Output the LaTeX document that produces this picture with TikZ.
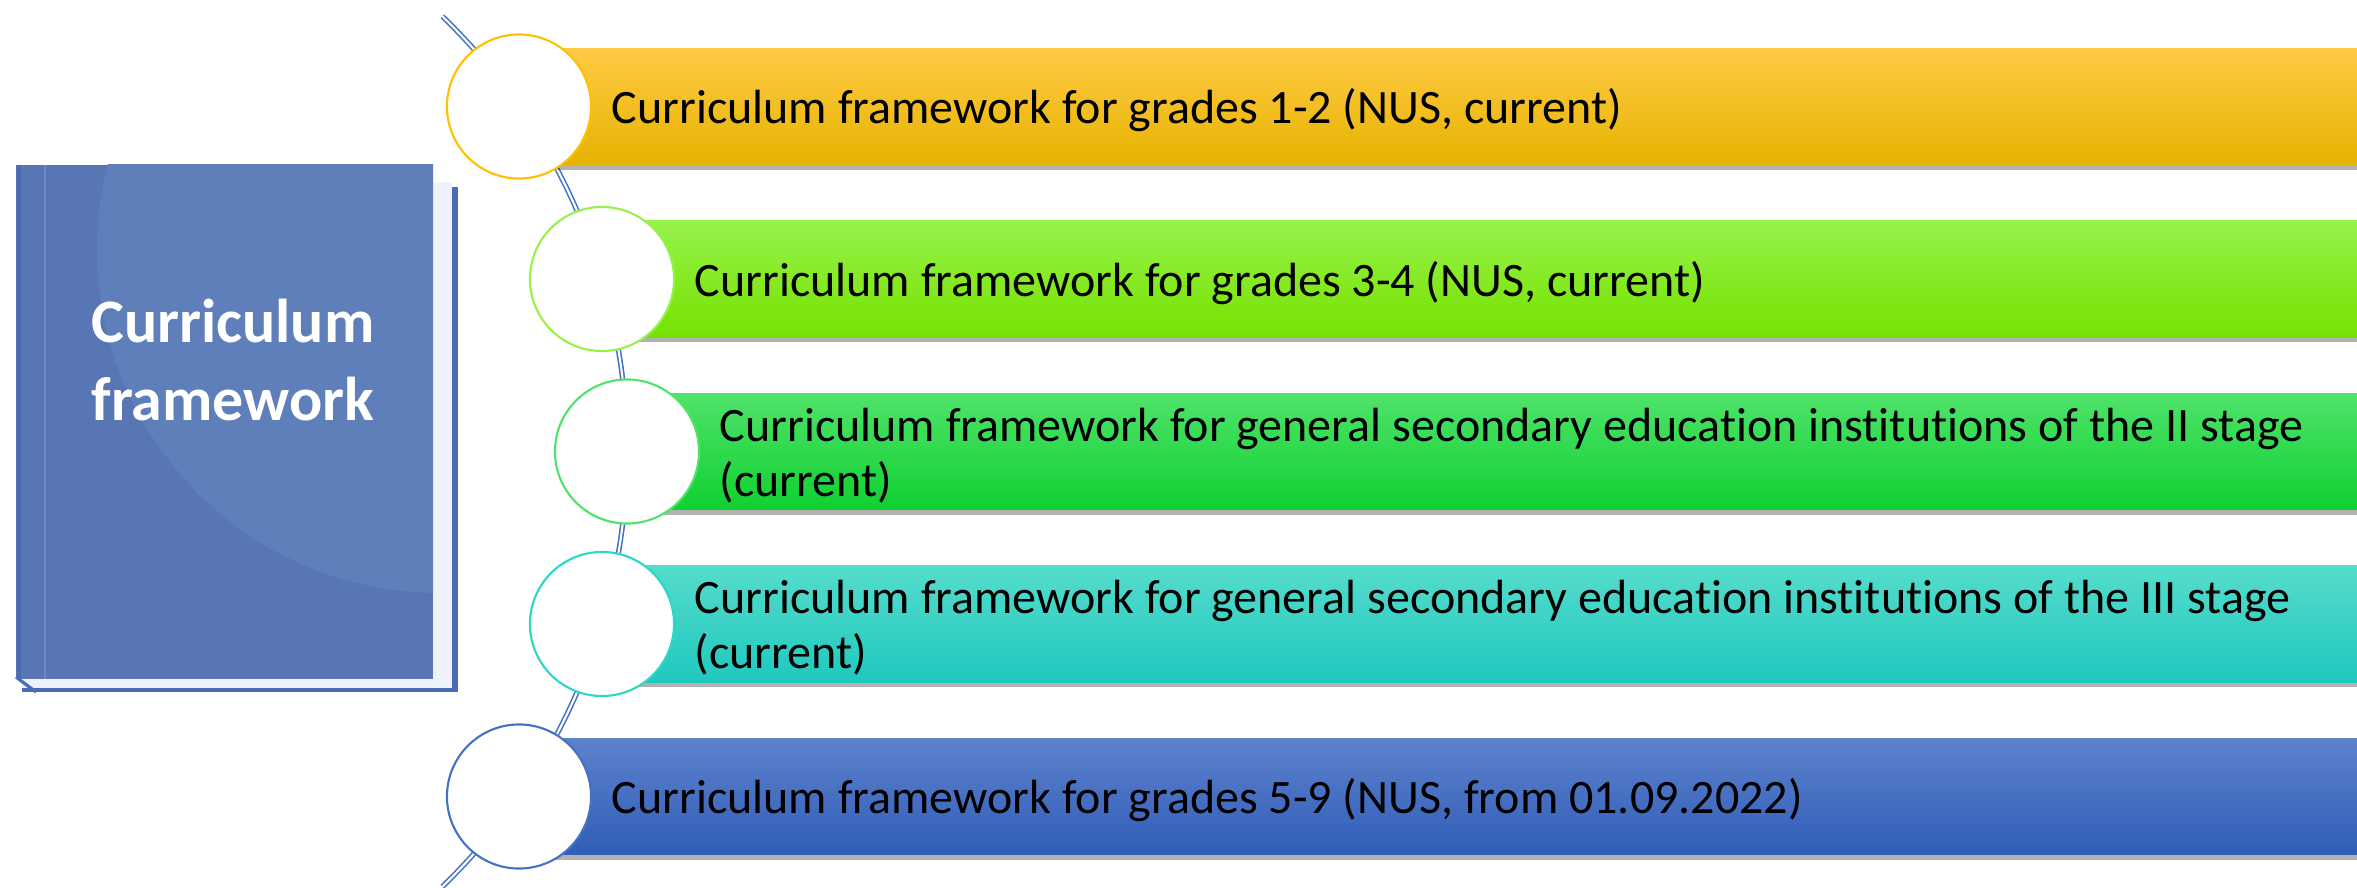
\documentclass[tikz,border=0pt]{standalone}
\usepackage{fontspec}
\setmainfont{Carlito}[Ligatures=NoCommon]
\usetikzlibrary{positioning,shadows}

\definecolor{spineblue}{HTML}{4472C4}
\definecolor{coverblue}{HTML}{5876B4}
\definecolor{coverlight}{HTML}{5F7FBA}
\definecolor{backblue}{HTML}{4A6CB8}
\definecolor{pagewhite}{HTML}{EEF2FA}
\definecolor{yeltop}{HTML}{FFCA45}
\definecolor{yelmid}{HTML}{FFC000}
\definecolor{yelbot}{HTML}{E6B300}
\definecolor{limetop}{HTML}{96F24A}
\definecolor{limemid}{HTML}{84F40A}
\definecolor{limebot}{HTML}{76E200}
\definecolor{greentop}{HTML}{4FE36A}
\definecolor{greenmid}{HTML}{1CE845}
\definecolor{greenbot}{HTML}{10D030}
\definecolor{tealtop}{HTML}{55DCCB}
\definecolor{tealmid}{HTML}{2AD8C8}
\definecolor{tealbot}{HTML}{1FC8BF}
\definecolor{bluetop}{HTML}{5E82CC}
\definecolor{bluemid}{HTML}{4472C4}
\definecolor{bluebot}{HTML}{2F5DB8}

\begin{document}
\begin{tikzpicture}[x=0.01cm,y=0.01cm,
  dot/.style={circle,draw=#1,fill=white,line width=0.6pt,minimum size=1.44cm,inner sep=0pt},
  band/.style n args={3}{anchor=west,minimum height=1.16cm,inner sep=0pt,
    top color=#1,middle color=#2,bottom color=#3,
    drop shadow={shadow xshift=0pt,shadow yshift=-0.05cm,opacity=0.3,fill=black}},
  bandtext/.style={anchor=west,inner sep=0pt,align=left,yshift=-0.04cm,font=\fontsize{13.65}{15.65}\selectfont}]
  \useasboundingbox (0,0) rectangle (2357,887);

  % book
  \fill[backblue] (22,195) rectangle (458,700);
  \fill[pagewhite] (22,199) rectangle (452,705);
  \draw[backblue,line width=0.9pt] (16,210) -- (36,195);
  \fill[coverblue] (16,208) rectangle (433,722);
  \begin{scope}
    \clip (16,208) rectangle (433,722);
    \fill[coverlight] (440,637) circle[radius=343];
  \end{scope}
  \draw[backblue,line width=1.2pt] (19,208) -- (19,722);
  \draw[backblue!80,line width=0.5pt] (45,208) -- (45,722);
  \node[text=white,font=\bfseries\fontsize{17.6}{22.2}\selectfont,align=center] (title) at (233,527) {Curriculum\\framework};

  % spine of the list
  \draw[spineblue,line width=0.45pt,double=white,double distance=0.6pt] (22,435.5) ++(46:605) arc[start angle=46,end angle=-46,radius=605];

  % items
  \node[band={yeltop}{yelmid}{yelbot},minimum width=18.38cm] (b1) at (519,780.5) {};
  \node[dot=yelmid] (c1) at (519,780.5) {};
  \node[bandtext,right=0.19cm of c1] (t1) {Curriculum framework for grades 1-2 (NUS, current)};

  \node[band={limetop}{limemid}{limebot},minimum width=17.55cm] (b2) at (602,608) {};
  \node[dot=limetop] (c2) at (602,608) {};
  \node[bandtext,right=0.19cm of c2] (t2) {Curriculum framework for grades 3-4 (NUS, current)};

  \node[band={greentop}{greenmid}{greenbot},minimum width=17.30cm] (b3) at (627,435.5) {};
  \node[dot=greentop] (c3) at (627,435.5) {};
  \node[bandtext,right=0.19cm of c3] (t3) {Curriculum framework for general secondary education institutions of the II stage\\(current)};

  \node[band={tealtop}{tealmid}{tealbot},minimum width=17.55cm] (b4) at (602,263) {};
  \node[dot=tealmid] (c4) at (602,263) {};
  \node[bandtext,right=0.19cm of c4] (t4) {Curriculum framework for general secondary education institutions of the III stage\\(current)};

  \node[band={bluetop}{bluemid}{bluebot},minimum width=18.38cm] (b5) at (519,90.5) {};
  \node[dot=bluemid] (c5) at (519,90.5) {};
  \node[bandtext,right=0.19cm of c5] (t5) {Curriculum framework for grades 5-9 (NUS, from 01.09.2022)};
\end{tikzpicture}
\end{document}
